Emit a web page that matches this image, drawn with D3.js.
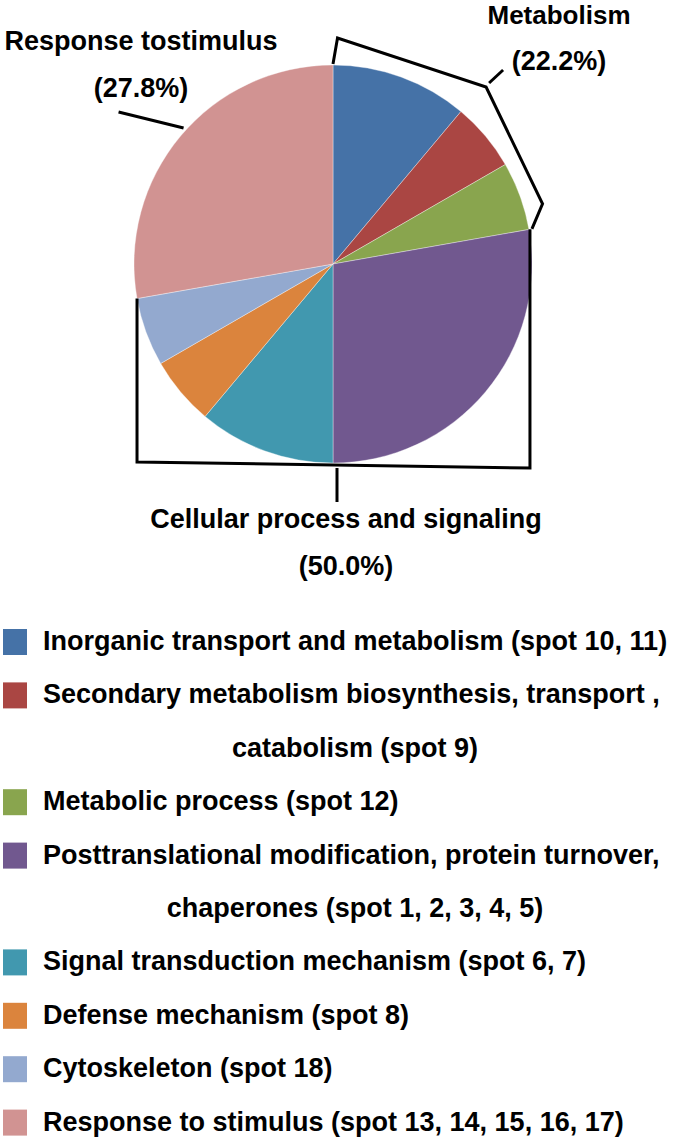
<!DOCTYPE html>
<html>
<head>
<meta charset="utf-8">
<script src="https://cdn.jsdelivr.net/npm/d3@7"></script>
<style>
  body { margin: 0; background: #fff; }
  .lbl { font-family: "Liberation Sans", Arial, sans-serif; font-weight: bold; font-size: 27px; fill: #000; }
  .leg { font-family: "Liberation Sans Narrow", "Arial Narrow", "Liberation Sans", sans-serif; font-weight: bold; font-size: 27px; fill: #000; }
</style>
</head>
<body>
<div id="chart"></div>
<script>
// categories in pie order (clockwise from 12 o'clock)
var categories = ["Inorganic transport and metabolism", "Secondary metabolism biosynthesis, transport, catabolism",
  "Metabolic process", "Posttranslational modification, protein turnover, chaperones",
  "Signal transduction mechanism", "Defense mechanism", "Cytoskeleton", "Response to stimulus"]
// number of spots per category
var spotCounts = [2, 1, 1, 5, 2, 1, 1, 5]
var colors = ["#4572A7", "#AA4643", "#89A54E", "#71588F", "#4198AF", "#DB843D", "#93A9CF", "#D19392"]
// legend text, one array of lines per category
var legendLines = [
  ["Inorganic transport and metabolism (spot 10, 11)"],
  ["Secondary metabolism biosynthesis, transport ,", "catabolism (spot 9)"],
  ["Metabolic process (spot 12)"],
  ["Posttranslational modification, protein turnover,", "chaperones (spot 1, 2, 3, 4, 5)"],
  ["Signal transduction mechanism (spot 6, 7)"],
  ["Defense mechanism (spot 8)"],
  ["Cytoskeleton (spot 18)"],
  ["Response to stimulus (spot 13, 14, 15, 16, 17)"]
]
// functional groups: first and last category index
var groupNames = ["Metabolism", "Cellular process and signaling", "Response tostimulus"]
var groupPercents = ["(22.2%)", "(50.0%)", "(27.8%)"]
var groupRanges = [[0, 2], [3, 6], [7, 7]]

var width = 675, height = 1142
var cx = 333, cy = 264, R = 199

var svg = d3.select("#chart").append("svg")
    .attr("width", width)
    .attr("height", height)

var pie = d3.pie().sort(null).value(d => d)
var arcs = pie(spotCounts)
var arc = d3.arc().innerRadius(0).outerRadius(R)

var g = svg.append("g").attr("transform", "translate(" + cx + "," + cy + ")")
g.selectAll("path.slice")
    .data(arcs)
    .enter()
    .append("path")
    .attr("class", "slice")
    .attr("d", arc)
    .style("fill", (d, i) => colors[i])
    .style("stroke", "#fff")
    .style("stroke-width", 0.6)
    .style("stroke-opacity", 0.6)

function polar(a, r) { return [cx + r * Math.sin(a), cy - r * Math.cos(a)] }

var line = d3.line()
function drawLine(pts) {
    svg.append("path")
        .attr("d", line(pts))
        .style("fill", "none")
        .style("stroke", "#000")
        .style("stroke-width", 3)
        .style("stroke-linejoin", "miter")
}

// Metabolism bracket
var mA0 = arcs[groupRanges[0][0]].startAngle, mA1 = arcs[groupRanges[0][1]].endAngle
var mMid = (mA0 + mA1) / 2
var apex = polar(mMid + 0.015, R + 35)
drawLine([polar(mA0, R + 1), polar(mA0 + 0.02, R + 27), apex, polar(mA1 - 0.105, R + 19), polar(mA1, R + 3)])
drawLine([[apex[0] + 3, apex[1] - 4], [apex[0] + 17, apex[1] - 17]])

// Cellular process bracket
var cA0 = arcs[groupRanges[1][0]].startAngle, cA1 = arcs[groupRanges[1][1]].endAngle
var cTop = polar(cA0, R + 1), cEnd = polar(cA1, R)
drawLine([cTop, [cTop[0], cy + R + 5], [cEnd[0], cy + R - 1], cEnd])
drawLine([[cx + 4, cy + R + 5], [cx + 4, cy + R + 39]])

// Response leader
var rA0 = arcs[groupRanges[2][0]].startAngle, rA1 = arcs[groupRanges[2][1]].endAngle
var rStart = polar((rA0 + rA1) / 2 + 0.04, R + 3)
drawLine([rStart, [rStart[0] - 65, rStart[1] - 16]])

// group labels
var labelPos = [[559, 24, 70], [346, 528, 575], [141, 50, 97]]
groupNames.forEach(function (name, i) {
    svg.append("text").attr("class", "lbl")
        .attr("x", labelPos[i][0]).attr("y", labelPos[i][1])
        .attr("text-anchor", "middle")
        .style("font-size", i == 0 ? "26px" : null)
        .text(name)
    svg.append("text").attr("class", "lbl")
        .attr("x", labelPos[i][0]).attr("y", labelPos[i][2])
        .attr("text-anchor", "middle").text(groupPercents[i])
})

// legend
var legY0 = 641, legStep = 53.4, textX = 43, blockMid = 355
var lineIdx = 0
legendLines.forEach(function (lines, i) {
    svg.append("rect")
        .attr("x", 3).attr("y", legY0 + lineIdx * legStep - 12)
        .attr("width", 24).attr("height", 26)
        .style("fill", colors[i])
    lines.forEach(function (t, j) {
        svg.append("text").attr("class", "leg")
            .attr("x", j == 0 ? textX : blockMid)
            .attr("y", legY0 + lineIdx * legStep + 9)
            .attr("text-anchor", j == 0 ? "start" : "middle")
            .text(t)
        lineIdx++
    })
})
</script>
</body>
</html>
